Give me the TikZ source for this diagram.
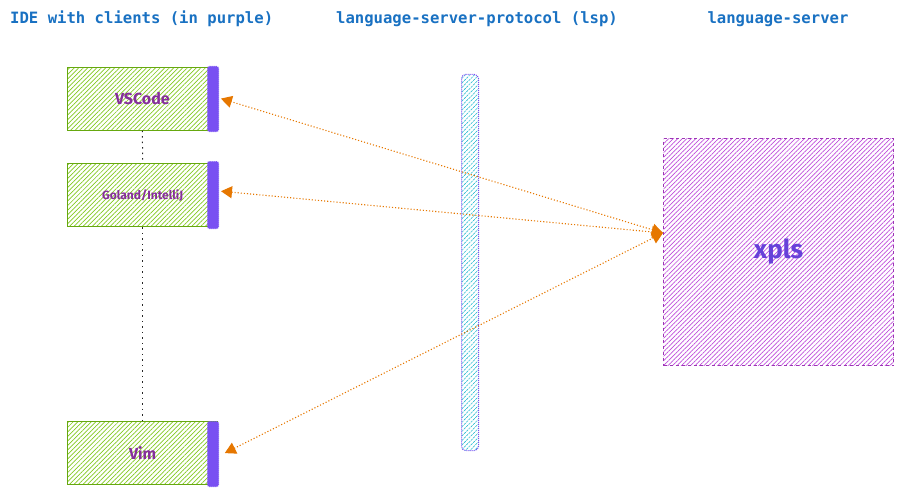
\documentclass[tikz,border=0pt]{standalone}
\usepackage{fontspec}
\setmainfont{Fira Sans}
\newfontfamily\monof{DejaVu Sans Mono}
\usetikzlibrary{patterns.meta,arrows.meta}
\definecolor{titleblue}{HTML}{1971C2}
\definecolor{cgreen}{HTML}{66A80F}
\definecolor{hgreen}{HTML}{82C91E}
\definecolor{cviolet}{HTML}{7950F2}
\definecolor{ctext}{HTML}{862E9C}
\definecolor{hpurple}{HTML}{BE4BDB}
\definecolor{bpurple}{HTML}{9C36B5}
\definecolor{hcyan}{HTML}{22B8CF}
\definecolor{xtext}{HTML}{6741D9}
\definecolor{corange}{HTML}{E67700}
\begin{document}
\begin{tikzpicture}[x=1pt,y=-1pt,
  title/.style={font=\monof\bfseries\fontsize{15.6}{17}\selectfont, text=titleblue, inner sep=0},
  client/.style={draw=cgreen, line width=1.3pt,
    pattern={Lines[angle=45,distance=3.2pt,line width=0.7pt]}, pattern color=hgreen,
    minimum width=150pt, minimum height=63pt, inner sep=0, anchor=north west, text=ctext},
  sidebar/.style={fill=cviolet, draw=cviolet, densely dotted, line width=1pt, rounded corners=2pt,
    minimum width=11pt, minimum height=65pt, inner sep=0, anchor=north west},
  conn/.style={corange, dotted, line width=1.1pt, shorten >=2pt,
    {Triangle[length=11pt,width=12pt]}-{Triangle[length=11pt,width=12pt]}},
  spine/.style={black!85, line width=1pt, dash pattern=on 1.5pt off 4pt},
]
\useasboundingbox (0,0) rectangle (902,495);
% titles
\node[title, anchor=west] (t1) at (10,19) {IDE with clients (in purple)};
\node[title] (t2) at (477,19) {language-server-protocol (lsp)};
\node[title] (t3) at (778,19) {language-server};
% clients
\node[client, font=\bfseries\fontsize{16}{18}\selectfont] (vscode) at (67,67) {VSCode};
\node[sidebar] (vsbar) at (207,66) {};
\node[client, font=\bfseries\fontsize{12}{14}\selectfont] (goland) at (67,163) {Goland/IntelliJ};
\node[sidebar, minimum height=67pt] (gobar) at (207,161) {};
\node[client, font=\bfseries\fontsize{16}{18}\selectfont] (vim) at (67,421) {Vim};
\node[sidebar] (vimbar) at (207,421) {};
\draw[spine] (vscode.south) -- (goland.north);
\draw[spine] (goland.south) -- (vim.north);
% lsp
\node[draw=cviolet, densely dotted, line width=1pt, rounded corners=4pt,
  pattern={Lines[angle=45,distance=3.2pt,line width=0.7pt]}, pattern color=hcyan,
  minimum width=17pt, minimum height=376pt, inner sep=0, anchor=north west] (lsp) at (461,74) {};
% server
\node[draw=bpurple, dashed, line width=1pt,
  pattern={Lines[angle=45,distance=3.2pt,line width=0.7pt]}, pattern color=hpurple,
  minimum width=230pt, minimum height=227pt, inner sep=0, anchor=north west,
  text=xtext, font=\bfseries\fontsize{26}{30}\selectfont] (xpls) at (663,138) {xpls};
\coordinate (srv) at ([yshift=19pt]xpls.west);
% connectors
\draw[conn] (srv) -- ([yshift=1pt]vsbar.east);
\draw[conn] (srv) -- ([yshift=4pt]gobar.east);
\draw[conn] (srv) -- ([xshift=4pt]vimbar.east);
\end{tikzpicture}
\end{document}
